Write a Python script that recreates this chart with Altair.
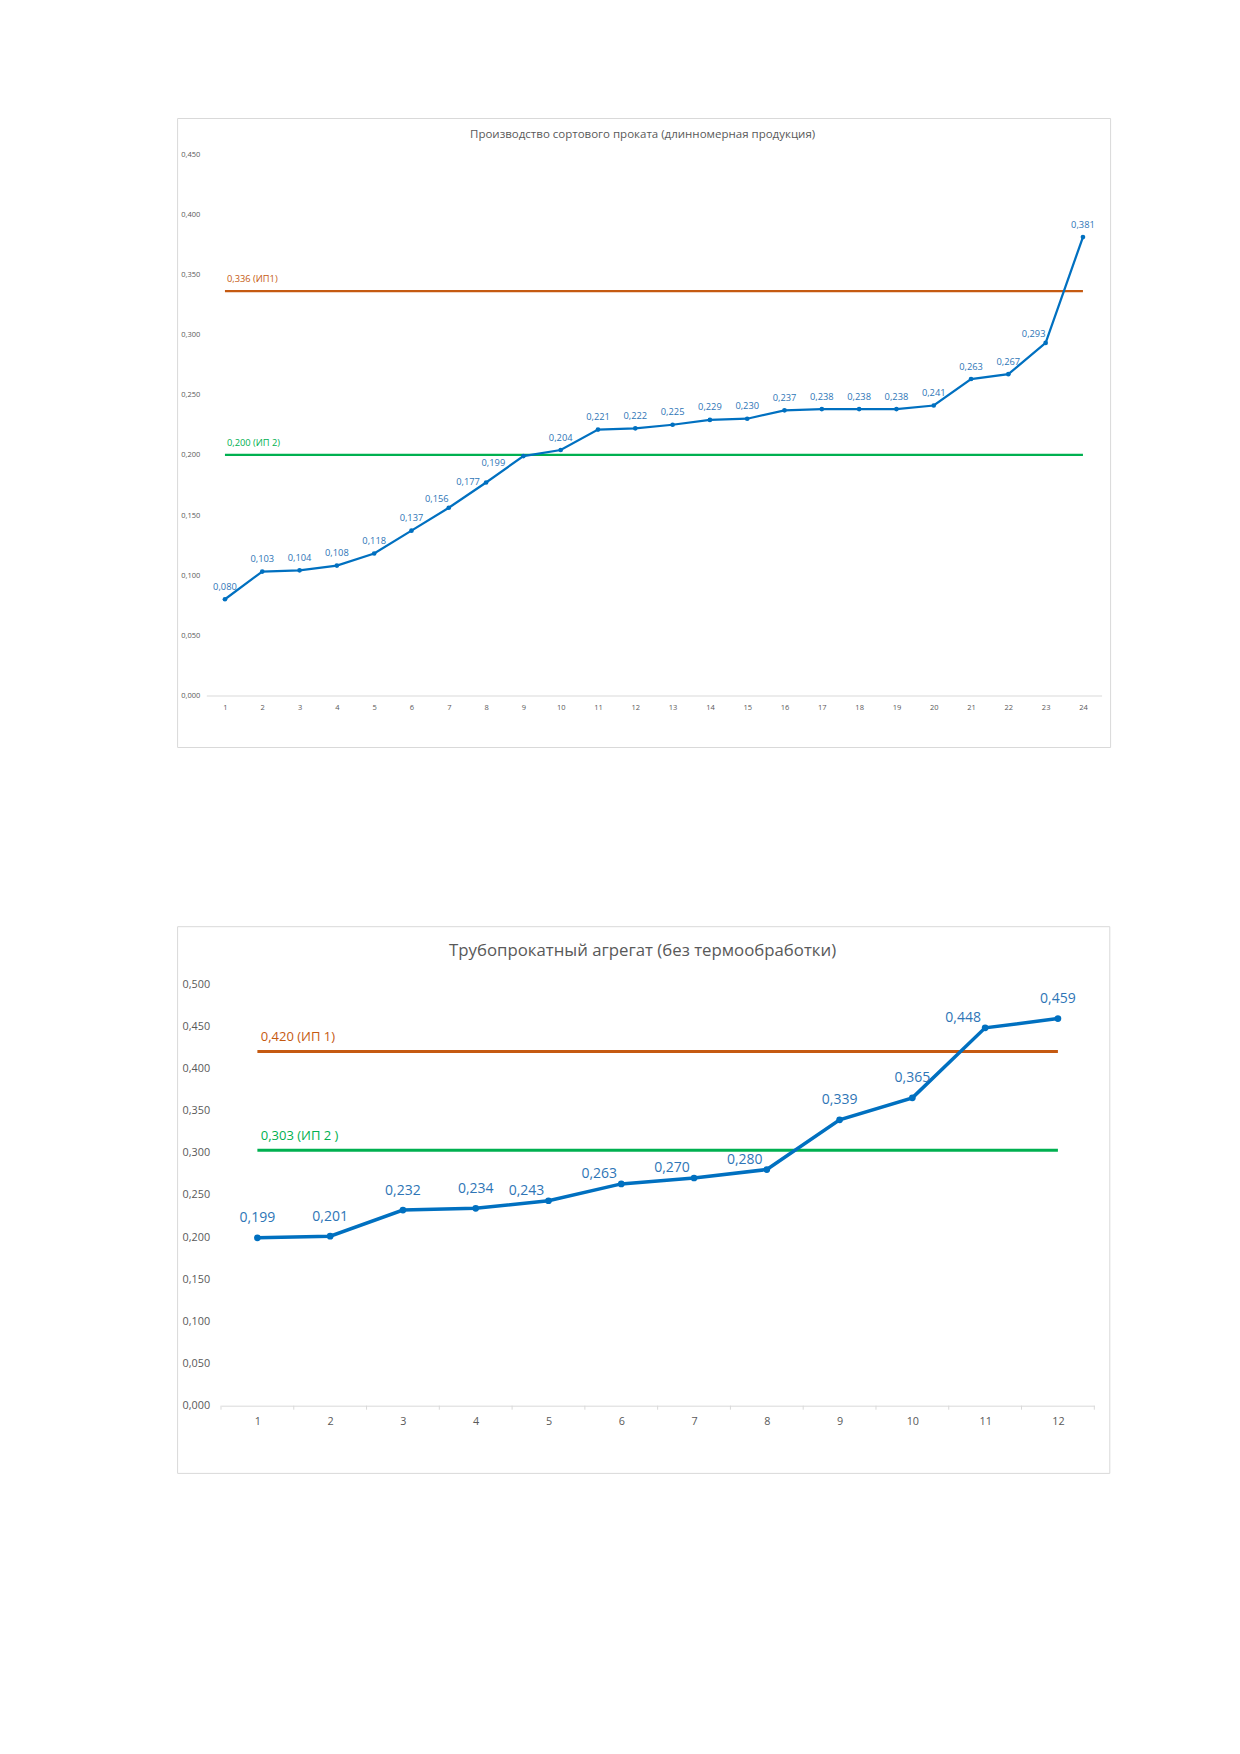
import altair as alt
import pandas as pd

FONT = "Open Sans"
BLUE_LINE = "#0070C0"
BLUE_LABEL = "#2E75B6"
ORANGE = "#C55A11"
GREEN = "#00B050"
GREY_TEXT = "#595959"
GREY_LINE = "#D9D9D9"

# ---------------- Chart 1 data ----------------
TITLE1 = "Производство сортового проката (длинномерная продукция)"
CATS1 = list(range(1, 25))
VALS1 = [0.080, 0.103, 0.104, 0.108, 0.118, 0.137, 0.156, 0.177, 0.199, 0.204,
         0.221, 0.222, 0.225, 0.229, 0.230, 0.237, 0.238, 0.238, 0.238, 0.241,
         0.263, 0.267, 0.293, 0.381]
POS1 = ["t", "t", "t", "t", "t", "t", "tl", "l", "bl", "t",
        "t", "t", "t", "t", "t", "t", "t", "t", "t", "t",
        "t", "t", "tl", "t"]
IP_VALS1 = [0.336, 0.200]
IP_NAMES1 = ["0,336 (ИП1)", "0,200 (ИП 2)"]
YTICKS1 = [0.0, 0.05, 0.10, 0.15, 0.20, 0.25, 0.30, 0.35, 0.40, 0.45]

# ---------------- Chart 2 data ----------------
TITLE2 = "Трубопрокатный агрегат (без термообработки)"
CATS2 = list(range(1, 13))
VALS2 = [0.199, 0.201, 0.232, 0.234, 0.243, 0.263, 0.270, 0.280, 0.339, 0.365,
         0.448, 0.459]
POS2 = ["t", "t", "t", "t", "tl", "tl", "tl", "tl", "t", "t", "tl", "t"]
IP_VALS2 = [0.420, 0.303]
IP_NAMES2 = ["0,420 (ИП 1)", "0,303 (ИП 2 )"]
YTICKS2 = [0.0, 0.05, 0.10, 0.15, 0.20, 0.25, 0.30, 0.35, 0.40, 0.45, 0.50]

LABEL_EXPR = "replace(format(datum.value, '.3f'), '.', ',')"


def build(cats, vals, pos, ip_vals, ip_names, title, yticks, s):
    n = len(cats)
    W, H = s["W"], s["H"]
    sh = s.get("shift", 0.0)  # plot area starts this far left of the group origin
    df = pd.DataFrame({"x": cats, "y": vals, "pos": pos})
    df["lab"] = [f"{v:.3f}".replace(".", ",") for v in vals]

    xs = alt.Scale(domain=[0.5, n + 0.5], nice=False, zero=False, range=[-sh, W - sh])
    ys = alt.Scale(domain=[0, yticks[-1]], nice=False, zero=True)
    xaxis = alt.Axis(values=cats, title=None, grid=False, ticks=False, tickSize=0,
                     domainColor=GREY_LINE, domainWidth=1, labelColor=GREY_TEXT,
                     labelFont=FONT, labelFontSize=s["axfs"], labelPadding=s["xlp"],
                     labelBaseline="middle", labelAngle=0, format="d")
    yaxis = alt.Axis(values=yticks, title=None, grid=False, domain=False, ticks=False,
                     tickSize=0, labelExpr=LABEL_EXPR, labelPadding=s["ylp"] + sh,
                     labelColor=GREY_TEXT, labelFont=FONT, labelFontSize=s["axfs"],
                     labelBaseline="middle")

    def X(f):
        return alt.X(f, scale=xs, axis=xaxis)

    def Y(f):
        return alt.Y(f, scale=ys, axis=yaxis)

    one = pd.DataFrame({"k": [0]})
    bl, br, bt, bb = s["border"]
    border = alt.Chart(one).mark_rect(fillOpacity=0, stroke=GREY_LINE, strokeWidth=1).encode(
        x=alt.value(-bl - sh), x2=alt.value(W + br - sh), y=alt.value(-bt), y2=alt.value(H + bb))
    ttl = alt.Chart(one).mark_text(text=title, font=FONT, fontSize=s["tfs"], color=GREY_TEXT,
                                   align="center", baseline="middle").encode(
        x=alt.value(s["tx"] - sh), y=alt.value(s["ty"]))

    ipdf = pd.DataFrame({"x1": [cats[0]] * 2, "x2": [cats[-1]] * 2,
                         "y": ip_vals, "name": ip_names})
    cscale = alt.Scale(domain=ip_names, range=[ORANGE, GREEN])
    rules = alt.Chart(ipdf).mark_rule(strokeWidth=s["ipw"]).encode(
        x=X("x1:Q"), x2="x2:Q", y=Y("y:Q"),
        color=alt.Color("name:N", scale=cscale, legend=None))
    iplab = alt.Chart(ipdf).mark_text(align="left", baseline="middle", font=FONT,
                                      fontSize=s["ipfs"], dx=s["ipdx"], dy=s["ipdy"]).encode(
        x=X("x1:Q"), y=Y("y:Q"), text="name:N",
        color=alt.Color("name:N", scale=cscale, legend=None))

    layers = [border, ttl, rules, iplab]

    if s.get("ticks"):
        bdf = pd.DataFrame({"b": [c - 0.5 for c in cats] + [cats[-1] + 0.5]})
        tk = alt.Chart(bdf).mark_rule(color=GREY_LINE, strokeWidth=1).encode(
            x=X("b:Q"), y=alt.value(H), y2=alt.value(H + 4))
        layers.append(tk)

    base = alt.Chart(df)
    line = base.mark_line(color=BLUE_LINE, strokeWidth=s["lw"]).encode(x=X("x:Q"), y=Y("y:Q"))
    pts = base.mark_point(filled=True, shape="circle", size=s["ms"], color=BLUE_LINE,
                          opacity=1).encode(x=X("x:Q"), y=Y("y:Q"))
    layers += [line, pts]

    for code, (dx, dy) in s["offsets"].items():
        lab = base.transform_filter(alt.datum.pos == code).mark_text(
            font=FONT, fontSize=s["labfs"], color=BLUE_LABEL, align="center",
            baseline="middle", dx=dx, dy=dy).encode(x=X("x:Q"), y=Y("y:Q"), text="lab:N")
        layers.append(lab)

    return alt.layer(*layers).properties(width=W - sh, height=H)


S1 = dict(W=895.3, H=541.5, axfs=7.5, xlp=11.7, ylp=6.5, lw=2.25, ms=22, labfs=9.3,
          ipfs=9.3, ipdx=2, ipdy=-12, ipw=2.3, tfs=11.5, tx=436.3, ty=-19.2,
          border=(28.7, 9.0, 35.5, 52.0), shift=14.7,
          offsets={"t": (0, -12.5), "tl": (-12, -9), "l": (-18, -1), "bl": (-30, 7)})
S2 = dict(W=873.3, H=421.7, axfs=10.8, xlp=16, ylp=11.4, lw=3.5, ms=45, labfs=14,
          ipfs=13, ipdx=3.4, ipdy=-14, ipw=3, tfs=16.8, tx=421.6, ty=-33,
          border=(43.4, 15.5, 57.3, 67.7), ticks=True,
          offsets={"t": (0, -19.5), "tl": (-22, -10)})

c1 = build(CATS1, VALS1, POS1, IP_VALS1, IP_NAMES1, TITLE1, YTICKS1, S1)
c2 = build(CATS2, VALS2, POS2, IP_VALS2, IP_NAMES2, TITLE2, YTICKS2, S2)

chart = alt.vconcat(c1, c2, spacing=178).configure_view(stroke=None).properties(
    padding={"left": 169, "top": 110, "right": 0, "bottom": 0})

chart.save("out.html", embed_options={"renderer": "svg", "actions": False})
